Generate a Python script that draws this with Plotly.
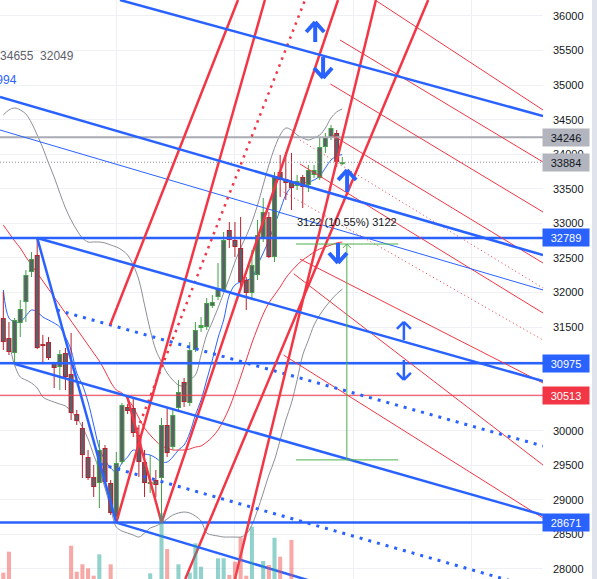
import plotly.graph_objects as go

# ---------------- data ----------------
opens = [31630,31341,31124,31558,31862,32296,32542,31254,31283,30980,
         30922,31124,30820,30242,30039,29620,29330,29244,29750,29244,
         28752,29547,30343,30329,29938,29547,29229,29287,29316,30083,
         29764,30329,30705,30401,31168,31486,31500,31804,31934,32036,
         32904,32759,32643,32180,31992,32253,32788,33092,32513,33743,
         33641,33612,33540,33670,33555,33699,33656,34104,34235,34307,33858]
closes = [31283,31139,31602,31761,32253,32484,31197,31225,31052,30907,
          31110,30777,30256,30140,29648,29316,29186,29721,29258,28810,
          29533,30372,30285,29967,29547,29244,29258,29215,30083,29677,
          30227,30560,30415,31168,31457,31529,31848,31862,32066,32759,
          32759,32658,32151,31992,32397,32832,33164,32513,33685,33627,
          33584,33511,33612,33526,33772,33772,34104,34249,34379,33888,33884]
highs = [32007,31573,31631,31891,32325,32585,32789,31385,31356,30995,
         31168,31197,31414,30300,30126,29721,29504,29866,29793,29287,
         29692,30401,30386,30473,30083,29721,29648,29432,30184,30329,
         30329,30734,30763,31283,31573,31645,31920,31963,32426,32875,
         33019,33019,33092,32224,32614,33048,33367,33164,33743,33989,
         34032,34018,33699,33699,33844,33844,34249,34307,34423,34350,33960]
lows = [31168,31095,30980,31356,31573,32224,31180,30980,31023,30618,
        30589,30589,30155,30083,29316,29287,29041,28882,29229,28781,
        28671,29518,30242,29909,29330,29041,29099,29041,28671,29620,
        29721,30271,30343,30357,31139,31428,31457,31775,31891,32007,
        32643,32513,32036,31746,31891,32180,32730,32498,32441,33381,
        33338,33193,33482,33222,33453,33656,33627,34017,34206,33815,33844]
volumes = [630,2730,0,0,0,0,0,0,0,0,
           0,0,3330,730,1470,1070,330,2470,0,1470,
           0,0,0,0,0,0,570,0,6570,3000,
           0,1470,0,630,3570,1230,0,0,2070,2070,
           400,1730,4170,330,5230,0,1800,1400,4130,2230,
           0,3900,0,0,0,0,0,0,0,0,0]
bb_upper = [34567,34640,34669,34640,34582,34452,34278,34090,33873,33670,
            33439,33222,33048,32904,32788,32730,32730,32730,32716,32687,
            32658,32614,32542,32397,32180,31819,31457,31168,30994,30835,
            30734,30661,30647,30734,30806,31095,31385,31573,31775,31992,
            32209,32441,32643,32817,33019,33265,33555,33844,34090,34278,
            34379,34350,34278,34235,34206,34235,34278,34379,34524,34611,34655]
bb_lower = [31385,31240,30951,30777,30734,30690,30618,30488,30444,30415,
            30386,30357,30285,30184,30054,29880,29649,29432,29171,28882,
            28607,28549,28520,28491,28462,28520,28592,28621,28665,28723,
            28781,28810,28824,28810,28766,28694,28520,28491,28477,28462,
            28462,28462,28462,28506,28636,28853,29099,29359,29576,29866,
            30155,30401,30734,31095,31312,31529,31674,31790,31891,31978,32049]
ma_blue = [32036,31631,31573,31573,31660,31746,31717,31645,31602,31558,
           31500,31356,31168,30835,30661,30415,30083,29750,29576,29460,
           29403,29533,29620,29721,29692,29663,29649,29605,29547,29547,
           29620,29721,29793,29967,30227,30444,30734,31023,31341,31602,
           31963,32108,32151,32180,32209,32397,32571,32759,32976,33193,
           33410,33526,33555,33584,33598,33627,33685,33801,33916,33974,33994]
ma_red = [32976,32860,32745,32643,32513,32397,32282,32166,32050,31934,
          31819,31703,31587,31472,31356,31240,31124,31008,30864,30705,
          30589,30546,30459,30343,30184,30039,29938,29851,29779,29750,
          29721,29721,29721,29735,29764,29779,29836,29909,30010,30155,
          30329,30546,30777,31023,31269,31486,31688,31848,31963,32079,
          32209,32310,32397,32470,32527,32585,32629,32658,32687,32716,32730]

n = len(opens)
for arr in (closes, highs, lows, volumes, bb_upper, bb_lower, ma_blue, ma_red):
    assert len(arr) == n, len(arr)

y_ticks = list(range(28000, 36001, 500))
y_tick_text = [str(v) for v in y_ticks]
x_grid = [20.12, 41.0, 61.9, 82.95]

# horizontal levels
blue_levels = [32789, 30975, 28671]
grey_level = 34246
red_level = 30513
last_price = 33884

# drawings: anchors as (bar index, price)
blue_thick = [((20.65, 36231), (95.52, 34553)),
              ((-0.58, 34828), (95.52, 32542)),
              ((6, 32789), (95.52, 30719)),
              ((2.07, 30965), (95.52, 28781)),
              ((20, 28671), (60, 27690)),
              ((6, 32789), (20, 28671))]
blue_dotted = [((9.5, 31746), (95.52, 29779)),
               ((17.1, 29518), (95.52, 27695))]
blue_thin = [((-0.58, 34350), (95.52, 32036))]
red_thick = [((18.9, 31529), (41.54, 36231)),
             ((20, 28671), (46.3, 36231)),
             ((28, 28671), (59.24, 36231)),
             ((41.0, 27855), (65.96, 36231)),
             ((32.2, 27855), (75.2, 36231)),
             ((21.9, 30502), (28, 28671))]
red_dotted = [((23.7, 30010), (53.4, 36231))]
red_thin = [((65.8, 36231), (95.52, 34640)),
            ((59.6, 35652), (95.52, 33887)),
            ((57.9, 35016), (95.52, 33164)),
            ((58.2, 34278), (95.52, 32426)),
            ((52.5, 33859), (95.52, 31703)),
            ((52.5, 32484), (95.52, 30690)),
            ((51.4, 32271), (95.52, 29504)),
            ((49.6, 31095), (95.52, 28737))]
red_thin_dotted = [((52.5, 34206), (95.52, 32065)),
                   ((49.0, 33482), (95.52, 31312))]

# arrows: (bar index, tail price, tip price, size)
arrows = [(55.2, 35623, 35913, 'big'),
          (56.6, 35406, 35103, 'big'),
          (60.85, 33453, 33772, 'big'),
          (59.24, 32715, 32426, 'big'),
          (70.9, 31312, 31573, 'small'),
          (70.9, 31023, 30734, 'small')]

# price range measure
measure_top, measure_bottom = 32701, 29578
measure_x = [51.8, 69.9]
measure_mid = 60.8
measure_text = "3122 (10.55%) 3122"

legend_bb = "33352  34655  32049"
legend_ma = "33994"

# ---------------- layout geometry ----------------
W, H = 597, 579
PLOT_W = 543
X_RANGE = [-0.584, 95.52]
Y_RANGE = [27855, 36231]
ppx = (Y_RANGE[1] - Y_RANGE[0]) / H          # price units per pixel
bpx = (X_RANGE[1] - X_RANGE[0]) / PLOT_W     # bar units per pixel

GREEN = '#43a047'
RED = '#b5222e'
BODY = '#5d6068'
BLUE = '#2962ff'
TVRED = '#f23645'
FONT = 'Liberation Sans, Arial'

fig = go.Figure()

# volume
vol_colors = ['rgba(38,166,154,0.5)' if c >= o else 'rgba(239,83,80,0.5)'
              for o, c in zip(opens, closes)]
fig.add_trace(go.Bar(x=list(range(n)), y=volumes, yaxis='y2', width=0.72,
                     marker=dict(color=vol_colors, line=dict(width=0))))

# Bollinger bands and averages
for series, col in ((bb_upper, '#8c8f96'), (bb_lower, '#8c8f96'),
                    (ma_blue, BLUE), (ma_red, TVRED)):
    fig.add_trace(go.Scatter(x=list(range(n)), y=series, mode='lines',
                             line=dict(color=col, width=1, shape='spline')))

# candles
for up, col in ((True, GREEN), (False, RED)):
    wx, wy, bx, by, ix, iy = [], [], [], [], [], []
    for i in range(n):
        o, c, h, l = opens[i], closes[i], highs[i], lows[i]
        if (c >= o) != up:
            continue
        top, bot = max(o, c), min(o, c)
        if top - bot < 2 * ppx:
            mid = (top + bot) / 2
            top, bot = mid + ppx, mid - ppx
        wx += [i, i, None, i, i, None]
        wy += [h, top, None, bot, l, None]
        bx += [i, i, None]
        by += [top, bot, None]
        if top - bot > 3 * ppx:
            ix += [i, i, None]
            iy += [top - ppx, bot + ppx, None]
    fig.add_trace(go.Scatter(x=wx, y=wy, mode='lines', line=dict(color=col, width=1)))
    fig.add_trace(go.Scatter(x=bx, y=by, mode='lines', line=dict(color=col, width=5)))
    fig.add_trace(go.Scatter(x=ix, y=iy, mode='lines', line=dict(color=BODY, width=3)))


def add_lines(segs, color, width, dash='solid'):
    xs, ys = [], []
    for (x0, y0), (x1, y1) in segs:
        xs += [x0, x1, None]
        ys += [y0, y1, None]
    fig.add_trace(go.Scatter(x=xs, y=ys, mode='lines',
                             line=dict(color=color, width=width, dash=dash)))


# horizontal levels
add_lines([((X_RANGE[0], v), (X_RANGE[1], v)) for v in blue_levels], BLUE, 2.5)
add_lines([((X_RANGE[0], grey_level), (X_RANGE[1], grey_level))], '#a8abb3', 2)
add_lines([((X_RANGE[0], red_level), (X_RANGE[1], red_level))], TVRED, 1)
add_lines([((X_RANGE[0], last_price), (X_RANGE[1], last_price))], '#8a8d95', 1, '1px,2px')

# trend drawings
add_lines(red_thin, TVRED, 1)
add_lines(red_thin_dotted, TVRED, 1, '1px,3px')
add_lines(blue_thin, BLUE, 1)
add_lines(blue_dotted, BLUE, 3, '3px,6px')
add_lines(red_dotted, TVRED, 2.5, '2.5px,5px')
add_lines(red_thick, TVRED, 2.5)
add_lines(blue_thick, BLUE, 2.5)

# measure tool
add_lines([((measure_x[0], measure_top), (measure_x[1], measure_top)),
           ((measure_x[0], measure_bottom), (measure_x[1], measure_bottom)),
           ((measure_mid, measure_top), (measure_mid, measure_bottom)),
           ((measure_mid - 4 * bpx, measure_top - 4 * ppx), (measure_mid, measure_top)),
           ((measure_mid, measure_top), (measure_mid + 4 * bpx, measure_top - 4 * ppx))],
          '#4caf50', 1)

# arrows
for ax_, tail, tip, size in arrows:
    s = 1 if tip > tail else -1
    hw, hl, lw = (9, 10, 4) if size == 'big' else (7, 7, 2.5)
    segs = [((ax_, tail), (ax_, tip)),
            ((ax_ - hw * bpx, tip - s * hl * ppx), (ax_, tip)),
            ((ax_, tip), (ax_ + hw * bpx, tip - s * hl * ppx))]
    add_lines(segs, BLUE, lw)

# annotations
ann = []
boxes = [(grey_level, '#b2b5be', '#131722'),
         (last_price, '#b2b5be', '#131722'),
         (blue_levels[0], BLUE, 'white'),
         (blue_levels[1], BLUE, 'white'),
         (red_level, TVRED, 'white'),
         (blue_levels[2], BLUE, 'white')]
for v, bg, fc in boxes:
    ann.append(dict(x=1, xref='paper', y=v, yref='y', xanchor='left', yanchor='middle',
                    text=str(v), showarrow=False, bgcolor=bg, width=44, height=15,
                    borderpad=1, xshift=-1, font=dict(size=11, color=fc, family=FONT)))
ann.append(dict(x=(measure_x[0] + measure_x[1]) / 2, y=measure_top, xref='x', yref='y',
                yshift=22, text=measure_text, showarrow=False,
                font=dict(size=11, color='#131722', family=FONT)))
ann.append(dict(x=76 / PLOT_W, y=1 - 56 / H, xref='paper', yref='paper', xanchor='right',
                yanchor='middle', text=legend_bb, showarrow=False,
                font=dict(size=12, color='#5d606b', family=FONT)))
ann.append(dict(x=19 / PLOT_W, y=1 - 80 / H, xref='paper', yref='paper', xanchor='right',
                yanchor='middle', text=legend_ma, showarrow=False,
                font=dict(size=12, color=BLUE, family=FONT)))

fig.update_layout(
    width=W, height=H, margin=dict(l=0, r=W - PLOT_W, t=0, b=0),
    paper_bgcolor='white', plot_bgcolor='white', showlegend=False,
    hovermode=False, barmode='overlay', annotations=ann,
    xaxis=dict(range=X_RANGE, tickvals=x_grid, showticklabels=False, showgrid=True,
               gridcolor='#eef0f4', zeroline=False, ticks='', fixedrange=True),
    yaxis=dict(range=Y_RANGE, side='right', tickvals=y_ticks, ticktext=y_tick_text,
               showgrid=True, gridcolor='#eef0f4', zeroline=False, ticks='',
               ticklabelstandoff=9, tickfont=dict(size=11, color='#131722', family=FONT)),
    yaxis2=dict(range=[0, H * 100], overlaying='y', visible=False),
    shapes=[dict(type='rect', xref='paper', yref='paper', x0=592 / PLOT_W, x1=W / PLOT_W,
                 y0=0, y1=1, fillcolor='#e0e3eb', line=dict(width=0), layer='above')],
)

fig.write_html("out.html", config={'displayModeBar': False},
               post_script="document.body.style.margin='0px';")
